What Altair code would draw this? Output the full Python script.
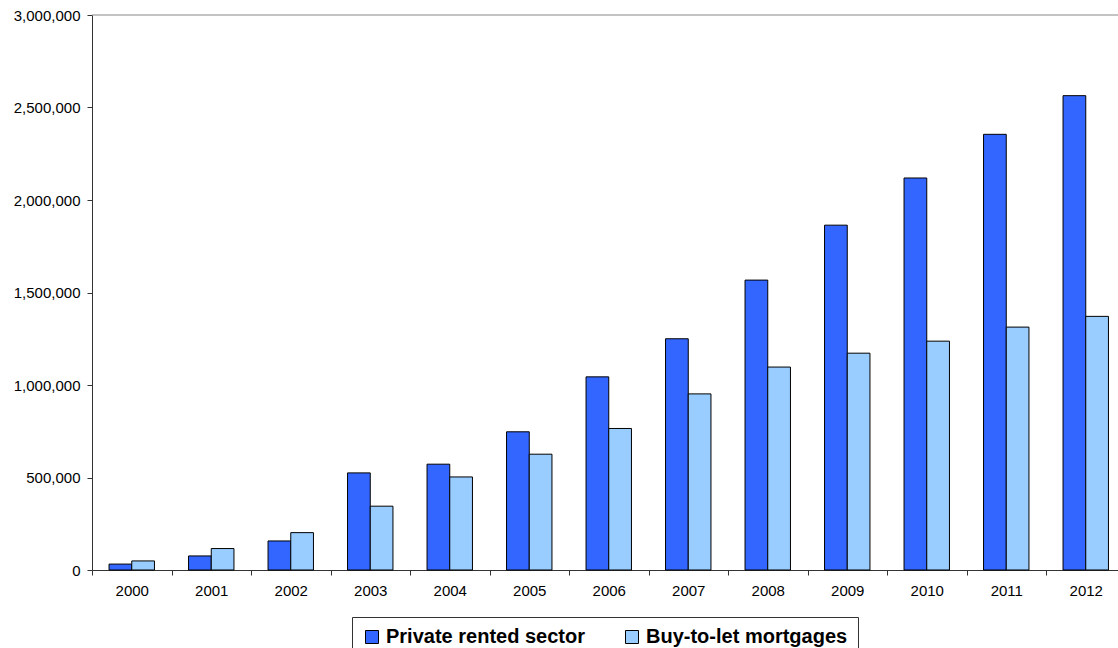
import altair as alt
import pandas as pd

# Yearly totals, 2000-2012
years = ["2000", "2001", "2002", "2003", "2004", "2005", "2006",
         "2007", "2008", "2009", "2010", "2011", "2012"]
private_rented = [32000, 76000, 157000, 525000, 572000, 747000, 1044000,
                  1250000, 1567000, 1864000, 2119000, 2355000, 2564000]
buy_to_let = [49000, 116000, 202000, 345000, 503000, 626000, 765000,
              952000, 1097000, 1172000, 1237000, 1313000, 1371000]

series_names = ["Private rented sector", "Buy-to-let mortgages"]
series_colors = ["#3366FF", "#99CCFF"]
y_ticks = [0, 500000, 1000000, 1500000, 2000000, 2500000, 3000000]

rows = []
for i, yr in enumerate(years):
    rows.append({"year": yr, "series": series_names[0], "value": private_rented[i]})
    rows.append({"year": yr, "series": series_names[1], "value": buy_to_let[i]})
df = pd.DataFrame(rows)

FONT = "Liberation Sans"
W, H = 1026, 555

bars = alt.Chart(df).mark_bar(stroke="black", strokeWidth=1).encode(
    x=alt.X(
        "year:N",
        sort=years,
        scale=alt.Scale(range=[0, 1033.5], paddingInner=0, paddingOuter=0),
        axis=alt.Axis(
            title=None, tickBand="extent", labelAngle=0, tickSize=5,
            labelPadding=8, labelFontSize=15, labelFont=FONT, labelColor="black",
            domainColor="#333333", tickColor="#333333", grid=False,
        ),
    ),
    xOffset=alt.XOffset(
        "series:N", sort=series_names,
        scale=alt.Scale(paddingInner=0, paddingOuter=0.75),
    ),
    y=alt.Y(
        "value:Q",
        scale=alt.Scale(domain=[0, 3000000], nice=False),
        axis=alt.Axis(
            title=None, values=y_ticks,
            labelExpr="format(datum.value, ',')",
            tickSize=5, labelPadding=7,
            labelFontSize=15, labelFont=FONT, labelColor="black",
            domainColor="#333333", tickColor="#333333", grid=False,
        ),
    ),
    color=alt.Color(
        "series:N",
        sort=series_names,
        scale=alt.Scale(domain=series_names, range=series_colors),
        legend=alt.Legend(
            title=None, orient="none", legendX=260, legendY=602,
            direction="horizontal", columns=2, columnPadding=37,
            symbolType="square", symbolSize=169, symbolStrokeColor="black",
            symbolStrokeWidth=1, symbolOpacity=1,
            labelFontSize=20, labelFontWeight="bold", labelFont=FONT,
            labelColor="black", labelOffset=4, labelLimit=400,
            padding=10, strokeColor="#333333", fillColor="white",
        ),
    ),
)

# thin border along the top of the plot area
top_edge = alt.Chart(pd.DataFrame({"edge": [0]})).mark_rule(
    color="#888888", strokeWidth=1
).encode(y=alt.value(0), x=alt.value(0), x2=alt.value(W))

chart = alt.layer(bars, top_edge).properties(
    width=W, height=H,
    autosize=alt.AutoSizeParams(type="none"),
    padding={"left": 92, "top": 15, "right": 0, "bottom": 78},
    background="white",
).configure_view(stroke=None)

chart.save("out.html", embed_options={"renderer": "svg", "actions": False})
